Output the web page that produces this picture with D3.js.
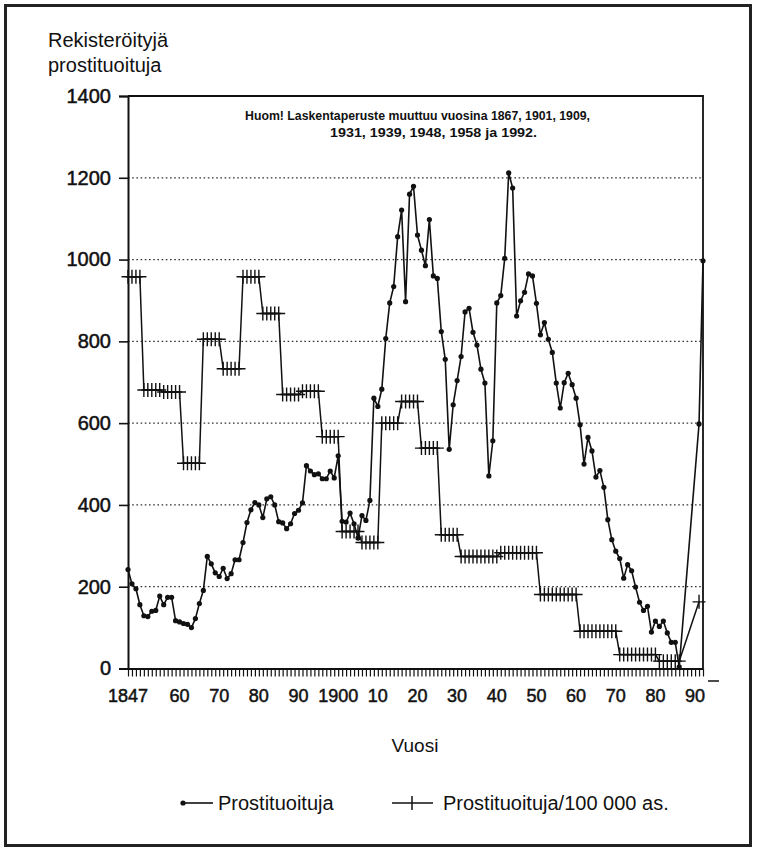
<!DOCTYPE html>
<html>
<head>
<meta charset="utf-8">
<script src="https://cdn.jsdelivr.net/npm/d3@7"></script>
<style>
  body { margin: 0; background: #fff; }
  svg { display: block; font-family: "Liberation Sans", Arial, Helvetica, sans-serif; }
</style>
</head>
<body>
<svg id="chart" width="757" height="852"></svg>
<script>
// Rekisteröityjä prostituoituja (vuosittain)
var years = [
  1847, 1848, 1849, 1850, 1851, 1852, 1853, 1854, 1855, 1856, 1857, 1858, 1859, 1860,
  1861, 1862, 1863, 1864, 1865, 1866, 1867, 1868, 1869, 1870, 1871, 1872, 1873, 1874,
  1875, 1876, 1877, 1878, 1879, 1880, 1881, 1882, 1883, 1884, 1885, 1886, 1887, 1888,
  1889, 1890, 1891, 1892, 1893, 1894, 1895, 1896, 1897, 1898, 1899, 1900, 1901, 1902,
  1903, 1904, 1905, 1906, 1907, 1908, 1909, 1910, 1911, 1912, 1913, 1914, 1915, 1916,
  1917, 1918, 1919, 1920, 1921, 1922, 1923, 1924, 1925, 1926, 1927, 1928, 1929, 1930,
  1931, 1932, 1933, 1934, 1935, 1936, 1937, 1938, 1939, 1940, 1941, 1942, 1943, 1944,
  1945, 1946, 1947, 1948, 1949, 1950, 1951, 1952, 1953, 1954, 1955, 1956, 1957, 1958,
  1959, 1960, 1961, 1962, 1963, 1964, 1965, 1966, 1967, 1968, 1969, 1970, 1971, 1972,
  1973, 1974, 1975, 1976, 1977, 1978, 1979, 1980, 1981, 1982, 1983, 1984, 1985, 1986,
  1991, 1992
];
var prostituted = [
  242, 207, 195, 156, 129, 127, 140, 142, 177, 156, 174, 174, 117, 114,
  110, 108, 100, 122, 159, 191, 274, 256, 234, 225, 245, 220, 232, 266,
  266, 308, 357, 388, 406, 400, 369, 415, 420, 400, 359, 356, 342, 354,
  379, 387, 405, 496, 483, 474, 476, 464, 464, 483, 466, 520, 360, 358,
  380, 354, 319, 374, 362, 411, 661, 641, 683, 807, 894, 934, 1056, 1121,
  897, 1160, 1179, 1060, 1023, 985, 1098, 960, 954, 824, 756, 536, 645, 704,
  763, 872, 881, 822, 791, 732, 698, 471, 557, 894, 912, 1003, 1212, 1175,
  862, 899, 920, 965, 960, 893, 816, 846, 805, 773, 698, 637, 699, 722,
  694, 661, 596, 500, 565, 532, 468, 484, 443, 364, 315, 287, 269, 221,
  254, 239, 199, 162, 142, 152, 89, 116, 103, 116, 87, 64, 64, 4,
  598, 997
];

// Prostituoituja / 100 000 asukasta (jaksoittain)
var rateYears = [
  1847, 1848, 1849, 1850,
  1851, 1852, 1853, 1854, 1855, 1856, 1857, 1858, 1859, 1860,
  1861, 1862, 1863, 1864, 1865, 1866, 1867, 1868, 1869, 1870,
  1871, 1872, 1873, 1874, 1875, 1876, 1877, 1878, 1879, 1880,
  1881, 1882, 1883, 1884, 1885, 1886, 1887, 1888, 1889, 1890,
  1891, 1892, 1893, 1894, 1895, 1896, 1897, 1898, 1899, 1900,
  1901, 1902, 1903, 1904, 1905, 1906, 1907, 1908, 1909, 1910,
  1911, 1912, 1913, 1914, 1915, 1916, 1917, 1918, 1919, 1920,
  1921, 1922, 1923, 1924, 1925, 1926, 1927, 1928, 1929, 1930,
  1931, 1932, 1933, 1934, 1935, 1936, 1937, 1938, 1939, 1940,
  1941, 1942, 1943, 1944, 1945, 1946, 1947, 1948, 1949, 1950,
  1951, 1952, 1953, 1954, 1955, 1956, 1957, 1958, 1959, 1960,
  1961, 1962, 1963, 1964, 1965, 1966, 1967, 1968, 1969, 1970,
  1971, 1972, 1973, 1974, 1975, 1976, 1977, 1978, 1979, 1980,
  1981, 1982, 1983, 1984, 1985, 1986,
  1991
];
var ratePer100k = [
  958, 958, 958, 958,
  681, 681, 681, 681, 681, 676, 676, 676, 676, 676,
  502, 502, 502, 502, 502, 805, 805, 805, 805, 805,
  733, 733, 733, 733, 733, 958, 958, 958, 958, 958,
  868, 868, 868, 868, 868, 670, 670, 670, 670, 670,
  678, 678, 678, 678, 678, 567, 567, 567, 567, 567,
  335, 335, 335, 335, 335, 308, 308, 308, 308, 308,
  600, 600, 600, 600, 600, 653, 653, 653, 653, 653,
  539, 539, 539, 539, 539, 327, 327, 327, 327, 327,
  274, 274, 274, 274, 274, 274, 274, 274, 274, 274,
  283, 283, 283, 283, 283, 283, 283, 283, 283, 283,
  181, 181, 181, 181, 181, 181, 181, 181, 181, 181,
  91, 91, 91, 91, 91, 91, 91, 91, 91, 91,
  34, 34, 34, 34, 34, 34, 34, 34, 34, 34,
  18, 18, 18, 18, 18, 18,
  163
];

var yTicks = [0, 200, 400, 600, 800, 1000, 1200, 1400];
var xTickYears = [1847, 1860, 1870, 1880, 1890, 1900, 1910, 1920, 1930, 1940, 1950, 1960, 1970, 1980, 1990];
var xTickLabels = ['1847', '60', '70', '80', '90', '1900', '10', '20', '30', '40', '50', '60', '70', '80', '90'];

var svg = d3.select('#chart');

var x = d3.scaleLinear().domain([1847, 1992]).range([128, 703]);
var y = d3.scaleLinear().domain([0, 1400]).range([668.5, 96]);

var ink = '#111';

// outer frame
svg.append('rect')
    .attr('x', 5.5).attr('y', 5.5)
    .attr('width', 745).attr('height', 840)
    .attr('fill', '#fff')
    .attr('stroke', '#222')
    .attr('stroke-width', 3);

// dotted grid lines
svg.append('g')
    .selectAll('line')
    .data(yTicks.filter(function (d) { return d > 0 && d < 1400; }))
    .enter()
    .append('line')
    .attr('x1', x(1847)).attr('x2', x(1992))
    .attr('y1', function (d) { return y(d); })
    .attr('y2', function (d) { return y(d); })
    .attr('stroke', '#333')
    .attr('stroke-width', 1.3)
    .attr('stroke-dasharray', '1.6,2.6');

// plot frame (top + right)
svg.append('path')
    .attr('d', 'M' + x(1847) + ',' + y(1400) + 'H' + x(1992) + 'V' + y(0))
    .attr('fill', 'none')
    .attr('stroke', ink)
    .attr('stroke-width', 1.8);

// y axis
var yAxis = d3.axisLeft(y)
    .tickValues(yTicks)
    .tickSize(9)
    .tickPadding(8)
    .tickFormat(d3.format('d'));

var gy = svg.append('g')
    .attr('transform', 'translate(' + x(1847) + ',0)')
    .call(yAxis);
gy.select('.domain').attr('stroke', ink).attr('stroke-width', 2);
gy.selectAll('.tick line').attr('stroke', ink).attr('stroke-width', 1.6);
gy.selectAll('.tick text')
    .attr('fill', ink)
    .attr('font-size', 20)
    .attr('stroke', ink)
    .attr('stroke-width', 0.5)
    .style('font-family', '"Liberation Sans", Arial, sans-serif');

// x axis: a tick for every year
var allYears = d3.range(1847, 1993);
var xAxis = d3.axisBottom(x)
    .tickValues(allYears)
    .tickSize(8)
    .tickSizeOuter(0)
    .tickFormat('');

var gx = svg.append('g')
    .attr('transform', 'translate(0,' + y(0) + ')')
    .call(xAxis);
gx.select('.domain').attr('stroke', ink).attr('stroke-width', 2.2);
gx.selectAll('.tick line').attr('stroke', ink).attr('stroke-width', 1.2);

svg.append('g')
    .selectAll('text')
    .data(xTickYears)
    .enter()
    .append('text')
    .attr('x', function (d) { return x(d); })
    .attr('y', 702)
    .attr('text-anchor', 'middle')
    .attr('font-size', 18)
    .attr('fill', ink)
    .attr('stroke', ink)
    .attr('stroke-width', 0.5)
    .text(function (d, i) { return xTickLabels[i]; });

// stray mark right of the axis end
svg.append('line')
    .attr('x1', 708).attr('x2', 719)
    .attr('y1', 681).attr('y2', 681)
    .attr('stroke', ink)
    .attr('stroke-width', 1.5);

// axis titles
svg.append('text')
    .attr('x', 48).attr('y', 47)
    .attr('font-size', 20)
    .attr('fill', ink)
    .text('Rekisteröityjä');
svg.append('text')
    .attr('x', 48).attr('y', 72)
    .attr('font-size', 20)
    .attr('fill', ink)
    .text('prostituoituja');
svg.append('text')
    .attr('x', 415).attr('y', 752)
    .attr('text-anchor', 'middle')
    .attr('font-size', 19)
    .attr('fill', ink)
    .text('Vuosi');

// note
svg.append('text')
    .attr('x', 245).attr('y', 120)
    .attr('font-size', 13)
    .attr('font-weight', 'bold')
    .attr('fill', ink)
    .attr('textLength', 345)
    .attr('lengthAdjust', 'spacingAndGlyphs')
    .text('Huom! Laskentaperuste muuttuu vuosina 1867, 1901, 1909,');
svg.append('text')
    .attr('x', 330).attr('y', 137)
    .attr('font-size', 13)
    .attr('font-weight', 'bold')
    .attr('fill', ink)
    .attr('textLength', 207)
    .attr('lengthAdjust', 'spacingAndGlyphs')
    .text('1931, 1939, 1948, 1958 ja 1992.');

// series 2: per 100 000, crosses
var rateData = rateYears.map(function (d, i) { return { year: d, value: ratePer100k[i] }; });
var rateLine = d3.line()
    .x(function (d) { return x(d.year); })
    .y(function (d) { return y(d.value); });

var rate = svg.append('g');
rate.append('path')
    .datum(rateData)
    .attr('fill', 'none')
    .attr('stroke', ink)
    .attr('stroke-width', 1.5)
    .attr('d', rateLine);

var cross = d3.symbol().type(d3.symbolCross);
rate.selectAll('.cross')
    .data(rateData)
    .enter()
    .append('path')
    .attr('class', 'cross')
    .attr('fill', 'none')
    .attr('stroke', ink)
    .attr('stroke-width', 1.4)
    .attr('d', function (d) {
        var cx = x(d.year), cy = y(d.value);
        return 'M' + (cx - 6.5) + ',' + cy + 'H' + (cx + 6.5) +
               'M' + cx + ',' + (cy - 7) + 'V' + (cy + 7);
    });

// series 1: yearly counts, dots
var countData = years.map(function (d, i) { return { year: d, value: prostituted[i] }; });
var countLine = d3.line()
    .x(function (d) { return x(d.year); })
    .y(function (d) { return y(d.value); });

var counts = svg.append('g');
counts.append('path')
    .datum(countData)
    .attr('fill', 'none')
    .attr('stroke', ink)
    .attr('stroke-width', 1.6)
    .attr('stroke-linejoin', 'round')
    .attr('d', countLine);

counts.selectAll('circle')
    .data(countData)
    .enter()
    .append('circle')
    .attr('cx', function (d) { return x(d.year); })
    .attr('cy', function (d) { return y(d.value); })
    .attr('r', 2.6)
    .attr('fill', ink);

// legend
var legend = svg.append('g');
legend.append('line')
    .attr('x1', 182).attr('x2', 213)
    .attr('y1', 803).attr('y2', 803)
    .attr('stroke', ink).attr('stroke-width', 1.6);
legend.append('circle')
    .attr('cx', 183).attr('cy', 803).attr('r', 2.6)
    .attr('fill', ink);
legend.append('text')
    .attr('x', 218).attr('y', 810)
    .attr('font-size', 20)
    .attr('fill', ink)
    .text('Prostituoituja');

legend.append('path')
    .attr('d', 'M392,803H433M412,796V810')
    .attr('fill', 'none')
    .attr('stroke', ink).attr('stroke-width', 1.5);
legend.append('text')
    .attr('x', 443).attr('y', 810)
    .attr('font-size', 20)
    .attr('fill', ink)
    .text('Prostituoituja/100 000 as.');
</script>
</body>
</html>
